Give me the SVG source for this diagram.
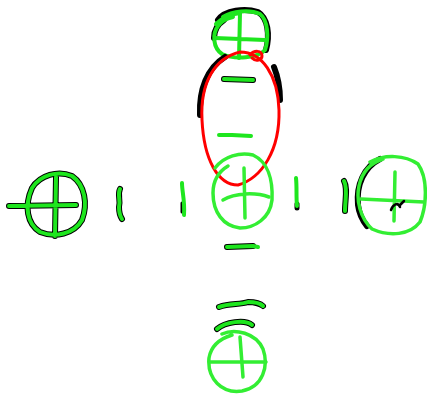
<svg xmlns="http://www.w3.org/2000/svg" width="427" height="395" viewBox="0 0 427 395">
<style>
.g{fill:none;stroke:#1ee61e;stroke-width:4;stroke-linecap:round;stroke-linejoin:round}
.k{fill:none;stroke:#000;stroke-width:6;stroke-linecap:round;stroke-linejoin:round}
.r{fill:none;stroke:#ff0000;stroke-width:3;stroke-linecap:round;stroke-linejoin:round}
</style>
<rect width="427" height="395" fill="#fff"/>
<g id="top">
<path class="k" d="M218,20 C225,10 245,8 258,12 C268,18 270,35 266,50 M214,38 C214,30 218,24 224,20"/>
<path class="g" d="M223,17 C232,11 250,9 260,14 C268,20 269,38 265,50 C258,58 235,60 222,54 C213,48 212,34 218,26 C222,20 228,18 233,17"/>
<path class="g" d="M216,24 C222,18 232,14 240,13"/>
<path class="g" d="M240,13 L239,58 M215,38 L265,40"/>
</g>
<g id="bubble">
<path class="k" d="M200,115 C199,90 207,68 225,57 M274,67 C278,77 280,88 280,100"/>
<path class="r" d="M240,52 C262,52 278,75 279,110 C280,150 262,178 238,185 C218,185 204,160 202,120 C200,82 215,58 240,52 Z"/>
<path class="r" d="M250,55 C254,50 262,50 262,56 C262,60 256,62 252,58"/>
<path class="k" d="M224,79 L253,80"/>
<path class="g" d="M224,79 L253,80"/>
<path class="g" d="M219,135 L232,135 L251,136"/>
</g>
<g id="center">
<path class="g" style="stroke:#33ee33;stroke-width:3.5" d="M215,168 C224,156 240,152 253,155 C268,162 273,180 272,200 C270,218 255,228 240,228 C223,226 213,212 213,193 C213,180 218,172 228,166"/>
<path class="g" style="stroke:#33ee33;stroke-width:3.5" d="M244,168 L245,218 M223,200 C235,193 255,192 269,197"/>
</g>
<g id="left">
<path class="k" d="M32,188 C40,175 58,170 72,176 C85,185 88,204 82,220 C74,234 55,238 40,232 C27,224 24,206 32,188 M9,206 L76,205 M56,177 L55,236"/>
<path class="g" d="M32,188 C40,175 58,170 72,176 C85,185 88,204 82,220 C74,234 55,238 40,232 C27,224 24,206 32,188 M9,206 L76,205 M56,177 L55,236"/>
</g>
<g id="right">
<path class="k" d="M380,159 C364,167 356,185 358,205 C359,213 362,220 367,226"/>
<path class="g" style="stroke:#33ee33;stroke-width:3.5" d="M370,162 C385,154 405,155 418,164 C428,178 427,205 420,222 C410,235 390,237 372,229 C360,218 356,200 359,186 C362,172 370,163 383,159"/>
<path class="g" style="stroke:#33ee33;stroke-width:3.5" d="M361,199 L424,202 M395,172 L394,221"/>
<path class="k" d="M391,210 C393,204 398,202 400,207 M400,205 L404,201" style="stroke-width:2.5"/>
</g>
<g id="bottom">
<path class="k" d="M217,329 C225,322 245,319 252,325"/>
<path class="g" d="M217,329 C225,322 245,319 252,325"/>
<path class="g" style="stroke:#33ee33;stroke-width:3.5" d="M222,334 C235,328 256,333 263,349 C269,366 263,387 242,391 C222,394 207,379 209,358 C211,346 219,339 232,335"/>
<path class="g" style="stroke:#33ee33;stroke-width:3.5" d="M210,362 L266,362 M240,337 L243,377"/>
</g>
<g id="connectors">
<path class="k" d="M120,189 C117,195 121,200 119,207 C119,212 120,216 122,219"/>
<path class="g" d="M120,189 C117,195 121,200 119,207 C119,212 120,216 122,219"/>
<path class="k" d="M182,203 L182,212" style="stroke-width:3"/>
<path class="g" d="M182,183 C182,192 185,200 184,215"/>
<path class="k" d="M297,204 L297,208" style="stroke-width:5"/>
<path class="g" d="M296,178 C297,188 296,196 297,206"/>
<path class="k" d="M344,181 C348,188 345,200 345,211"/>
<path class="g" d="M344,181 C348,188 345,200 345,211"/>
<path class="k" d="M227,247 L253,246"/>
<path class="g" d="M227,247 L253,246 L258,247"/>
<path class="k" d="M219,307 C230,303 240,305 248,302 C255,302 261,304 263,306"/>
<path class="g" d="M219,307 C230,303 240,305 248,302 C255,302 261,304 263,306"/>
</g>
</svg>
